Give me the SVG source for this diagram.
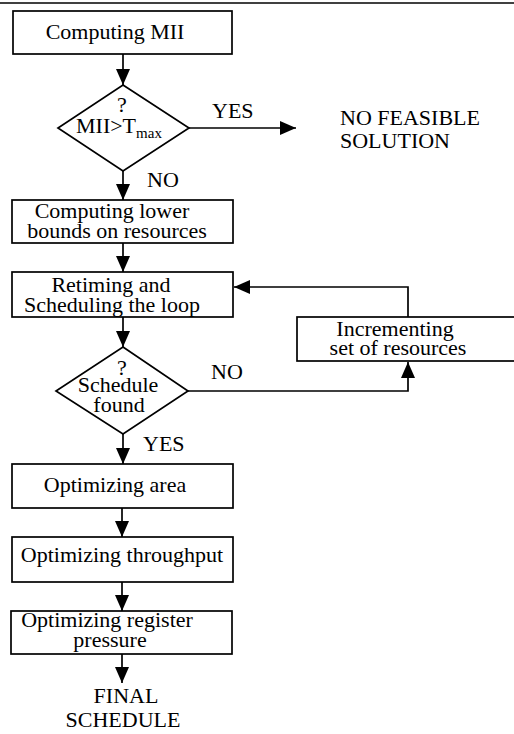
<svg xmlns="http://www.w3.org/2000/svg" width="514" height="734" viewBox="0 0 514 734" font-family="'Liberation Serif', Tinos, 'DejaVu Serif', 'Times New Roman', serif">
<style>
.box{fill:#fff;stroke:#000;stroke-width:1.7}
.ln{fill:none;stroke:#000;stroke-width:1.7}
text{font-family:'Liberation Serif', Tinos, 'DejaVu Serif', 'Times New Roman', serif;font-size:22px;fill:#000}
.m{text-anchor:middle}
</style>
<defs>
<marker id="ah" markerUnits="userSpaceOnUse" markerWidth="16" markerHeight="14" refX="16" refY="7" orient="auto">
<path d="M0,0 L16,7 L0,14 z" fill="#000"/>
</marker>
</defs>
<rect width="514" height="734" fill="#fff"/>
<line x1="0" y1="3" x2="514" y2="3" stroke="#000" stroke-width="1.7"/>
<g id="connectors">
<line class="ln" x1="123" y1="54" x2="123" y2="85" marker-end="url(#ah)"/>
<line class="ln" x1="189" y1="128" x2="296" y2="128" marker-end="url(#ah)"/>
<line class="ln" x1="123" y1="171" x2="123" y2="200" marker-end="url(#ah)"/>
<line class="ln" x1="123" y1="243" x2="123" y2="272" marker-end="url(#ah)"/>
<line class="ln" x1="123" y1="317" x2="123" y2="347" marker-end="url(#ah)"/>
<polyline class="ln" points="188,391 408,391 408,362" marker-end="url(#ah)"/>
<polyline class="ln" points="408,317 408,287 234,287" marker-end="url(#ah)"/>
<line class="ln" x1="123" y1="434" x2="123" y2="464" marker-end="url(#ah)"/>
<line class="ln" x1="122" y1="508" x2="122" y2="537" marker-end="url(#ah)"/>
<line class="ln" x1="122" y1="582" x2="122" y2="611" marker-end="url(#ah)"/>
<line class="ln" x1="122" y1="654" x2="122" y2="683" marker-end="url(#ah)"/>
<text x="212" y="118">YES</text>
<text x="147" y="187">NO</text>
<text x="211" y="379">NO</text>
<text x="143" y="451">YES</text>
</g>
<g id="n1">
<rect class="box" x="13" y="11" width="219" height="43"/>
<text class="m" x="115" y="39">Computing MII</text>
</g>
<g id="d1">
<polygon class="box" points="123,85 189,128 123,171 58,128"/>
<text class="m" x="122" y="112">?</text>
<text x="76" y="133">MII&gt;T<tspan font-size="15" dy="5">max</tspan></text>
</g>
<g id="nofeas">
<text x="340" y="125">NO FEASIBLE</text>
<text x="340" y="148">SOLUTION</text>
</g>
<g id="n2">
<rect class="box" x="12" y="200" width="221" height="43"/>
<text class="m" x="112" y="218">Computing lower</text>
<text class="m" x="117" y="238">bounds on resources</text>
</g>
<g id="n3">
<rect class="box" x="12" y="272" width="221" height="45"/>
<text class="m" x="111" y="292">Retiming and</text>
<text class="m" x="112" y="312">Scheduling the loop</text>
</g>
<g id="d2">
<polygon class="box" points="123,347 188,391 123,434 56,391"/>
<text class="m" x="122" y="375">?</text>
<text class="m" x="118" y="392">Schedule</text>
<text class="m" x="119" y="412">found</text>
</g>
<g id="n4">
<rect class="box" x="297" y="317" width="230" height="44"/>
<text class="m" x="395" y="336">Incrementing</text>
<text class="m" x="398" y="355">set of resources</text>
</g>
<g id="n5">
<rect class="box" x="12" y="464" width="221" height="44"/>
<text class="m" x="115" y="492">Optimizing area</text>
</g>
<g id="n6">
<rect class="box" x="12" y="537" width="221" height="45"/>
<text class="m" x="122" y="562">Optimizing throughput</text>
</g>
<g id="n7">
<rect class="box" x="11" y="611" width="221" height="43"/>
<text class="m" x="107" y="627">Optimizing register</text>
<text class="m" x="110" y="647">pressure</text>
</g>
<g id="final">
<text class="m" x="126" y="703">FINAL</text>
<text class="m" x="123" y="727">SCHEDULE</text>
</g>
</svg>
